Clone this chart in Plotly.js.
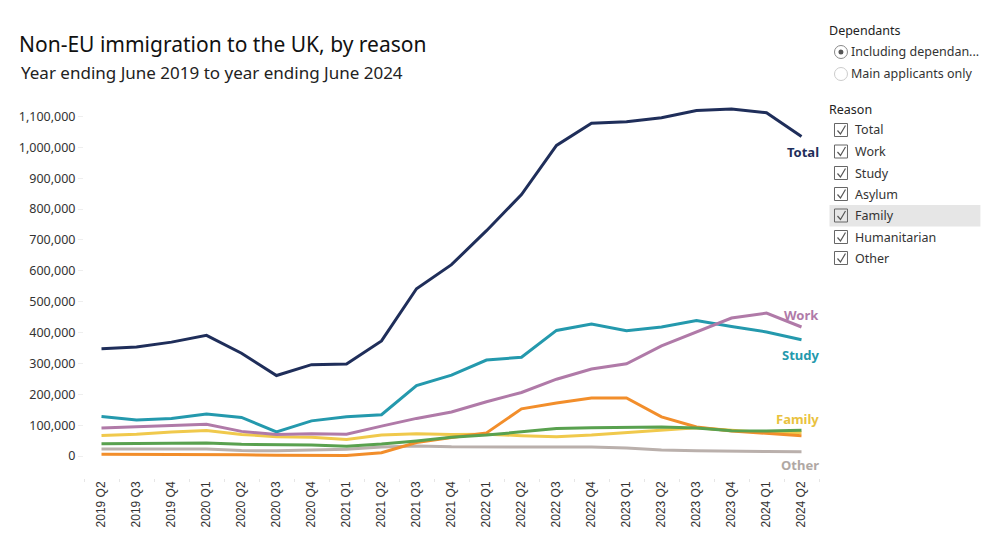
<!DOCTYPE html>
<html>
<head>
<meta charset="utf-8">
<script src="https://cdn.plot.ly/plotly-3.0.1.min.js"></script>
<style>html,body{margin:0;padding:0;background:#fff;}#chart{width:1000px;height:549px;}</style>
</head>
<body>
<div id="chart"></div>
<script>
const quarters = ["2019 Q2","2019 Q3","2019 Q4","2020 Q1","2020 Q2","2020 Q3","2020 Q4","2021 Q1","2021 Q2","2021 Q3","2021 Q4","2022 Q1","2022 Q2","2022 Q3","2022 Q4","2023 Q1","2023 Q2","2023 Q3","2023 Q4","2024 Q1","2024 Q2"];
const total = [348000,353000,369000,391000,333000,261000,296000,298000,373000,542000,620000,730000,847000,1006000,1078000,1083000,1096000,1119000,1124000,1112000,1035000];
const study = [128000,117000,122000,136000,125000,78000,114000,127000,134000,228000,262000,311000,320000,407000,428000,406000,418000,439000,420000,402000,377000];
const work = [91000,95000,100000,103000,80000,70000,72000,71000,97000,122000,143000,176000,206000,249000,282000,299000,357000,402000,447000,463000,418000];
const family = [67000,71000,78000,83000,70000,63000,61000,54000,68000,72000,70000,71000,66000,63000,68000,76000,84000,92000,84000,76000,76000];
const asylum = [40000,41000,42000,42000,38000,37000,36000,32000,39000,49000,61000,68000,78000,89000,92000,94000,94000,91000,82000,81000,84000];
const humanitarian = [6000,6000,6000,5000,4000,3000,2000,2000,11000,44000,60000,75000,153000,172000,188000,188000,127000,94000,81000,74000,66000];
const other = [23000,23000,23000,23000,18000,17000,20000,22000,29000,33000,30000,30000,31000,31000,29000,26000,20000,17000,17000,15000,14000];
const yTicks = [0,100000,200000,300000,400000,500000,600000,700000,800000,900000,1000000,1100000];
const reasons = ["Total","Work","Study","Asylum","Family","Humanitarian","Other"];

const C = {total:"#1f2e5a", study:"#2499ad", work:"#b07aa8", family:"#f0c94c", asylum:"#59a14f", humanitarian:"#f28e2b", other:"#bab0ac"};

function tr(name, y, color){
  return {type:"scatter", mode:"lines", name:name, x:quarters, y:y,
    line:{color:color, width:3}, hoverinfo:"x+y+name"};
}
const data = [
  tr("Other", other, C.other),
  tr("Family", family, C.family),
  tr("Humanitarian", humanitarian, C.humanitarian),
  tr("Asylum", asylum, C.asylum),
  tr("Study", study, C.study),
  tr("Work", work, C.work),
  tr("Total", total, C.total)
];

const W=1000, H=549, L=84, R=180.5, T=101, B=71;
const pw=W-L-R, ph=H-T-B;
function px(x){return (x-L)/pw;}
function py(y){return (H-B-y)/ph;}

const FONT = "'Noto Sans', Lato, sans-serif";
const annotations = [];
const shapes = [];

// subtitle
annotations.push({xref:"paper", yref:"paper", x:px(19), y:py(72), xanchor:"left", yanchor:"middle",
  text:"Year ending June 2019 to year ending June 2024", showarrow:false,
  font:{family:FONT, size:17, color:"#222"}});

// line end labels
const last = quarters[quarters.length-1];
function endLabel(text, yv, color){
  annotations.push({xref:"x", yref:"y", x:last, y:yv, xanchor:"right", yanchor:"middle", xshift:19,
    text:"<b>"+text+"</b>", showarrow:false, font:{family:FONT, size:13, color:color}});
}
endLabel("Total", 985000, C.total);
endLabel("Work", 457000, C.work);
endLabel("Study", 327000, C.study);
endLabel("Family", 120000, "#e9c23e");
endLabel("Other", -29000, "#b0a8a4");

// filter panel
function txt(t, x, y, size, color){
  annotations.push({xref:"paper", yref:"paper", x:px(x), y:py(y), xanchor:"left", yanchor:"middle",
    text:t, showarrow:false, font:{family:FONT, size:size, color:color}});
}
txt("Dependants", 828, 31, 12.5, "#222");
txt("Including dependan...", 850, 52, 12.5, "#333");
txt("Main applicants only", 850, 74, 12.5, "#333");
txt("Reason", 828, 109, 12.5, "#222");

// radio buttons
shapes.push({type:"circle", xref:"paper", yref:"paper", x0:px(835), x1:px(848), y0:py(58.5), y1:py(45.5),
  line:{color:"#888", width:1}, fillcolor:"#fff"});
shapes.push({type:"circle", xref:"paper", yref:"paper", x0:px(839), x1:px(844), y0:py(54.5), y1:py(49.5),
  line:{color:"#555", width:0}, fillcolor:"#555"});
shapes.push({type:"circle", xref:"paper", yref:"paper", x0:px(835), x1:px(848), y0:py(80.5), y1:py(67.5),
  line:{color:"#ccc", width:1}, fillcolor:"#fff"});

// family highlight
const rowY = [130,151.5,173,194,215.5,237,258];
shapes.push({type:"rect", xref:"paper", yref:"paper", x0:px(830), x1:px(981), y0:py(rowY[4]+11), y1:py(rowY[4]-10.5),
  line:{width:0}, fillcolor:"#e6e6e6", layer:"below"});

reasons.forEach((r,i)=>{
  const cy=rowY[i];
  shapes.push({type:"rect", xref:"paper", yref:"paper", x0:px(835), x1:px(848), y0:py(cy+6.5), y1:py(cy-6.5),
    line:{color:"#666", width:1}, fillcolor:"rgba(255,255,255,0)"});
  const path = "M "+px(838)+","+py(cy+0.5)+" L "+px(841)+","+py(cy+4)+" L "+px(846)+","+py(cy-4.5);
  shapes.push({type:"path", xref:"paper", yref:"paper", path:path, line:{color:"#555", width:1.2}});
  txt(r, 854, cy, 12.5, "#333");
});

const layout = {
  width:W, height:H,
  margin:{l:L, r:R, t:T, b:B, pad:0},
  paper_bgcolor:"#fff", plot_bgcolor:"#fff",
  showlegend:false,
  font:{family:FONT, color:"#333"},
  title:{text:"Non-EU immigration to the UK, by reason", xref:"container", yref:"container",
    x:19/W, xanchor:"left", y:1-45/H, yanchor:"middle",
    font:{family:FONT, size:21, color:"#111"}},
  xaxis:{type:"category", range:[-0.5, quarters.length-0.5], showgrid:false, zeroline:false, showline:false,
    tickangle:-90, tickfont:{family:"'Liberation Sans', Arial, sans-serif", size:12, color:"#333"},
    ticks:"outside", tickson:"boundaries", ticklen:3, tickcolor:"#e6e6e6", fixedrange:true},
  yaxis:{range:[-71000, 1150000], tickvals:yTicks, tickformat:",d", showgrid:false, zeroline:false, showline:false,
    ticks:"outside", ticklen:5, tickcolor:"#eeeeee",
    tickfont:{family:FONT, size:12.5, color:"#333"}, fixedrange:true},
  annotations:annotations,
  shapes:shapes
};

Plotly.newPlot("chart", data, layout, {displayModeBar:false, staticPlot:true});
</script>
</body>
</html>
